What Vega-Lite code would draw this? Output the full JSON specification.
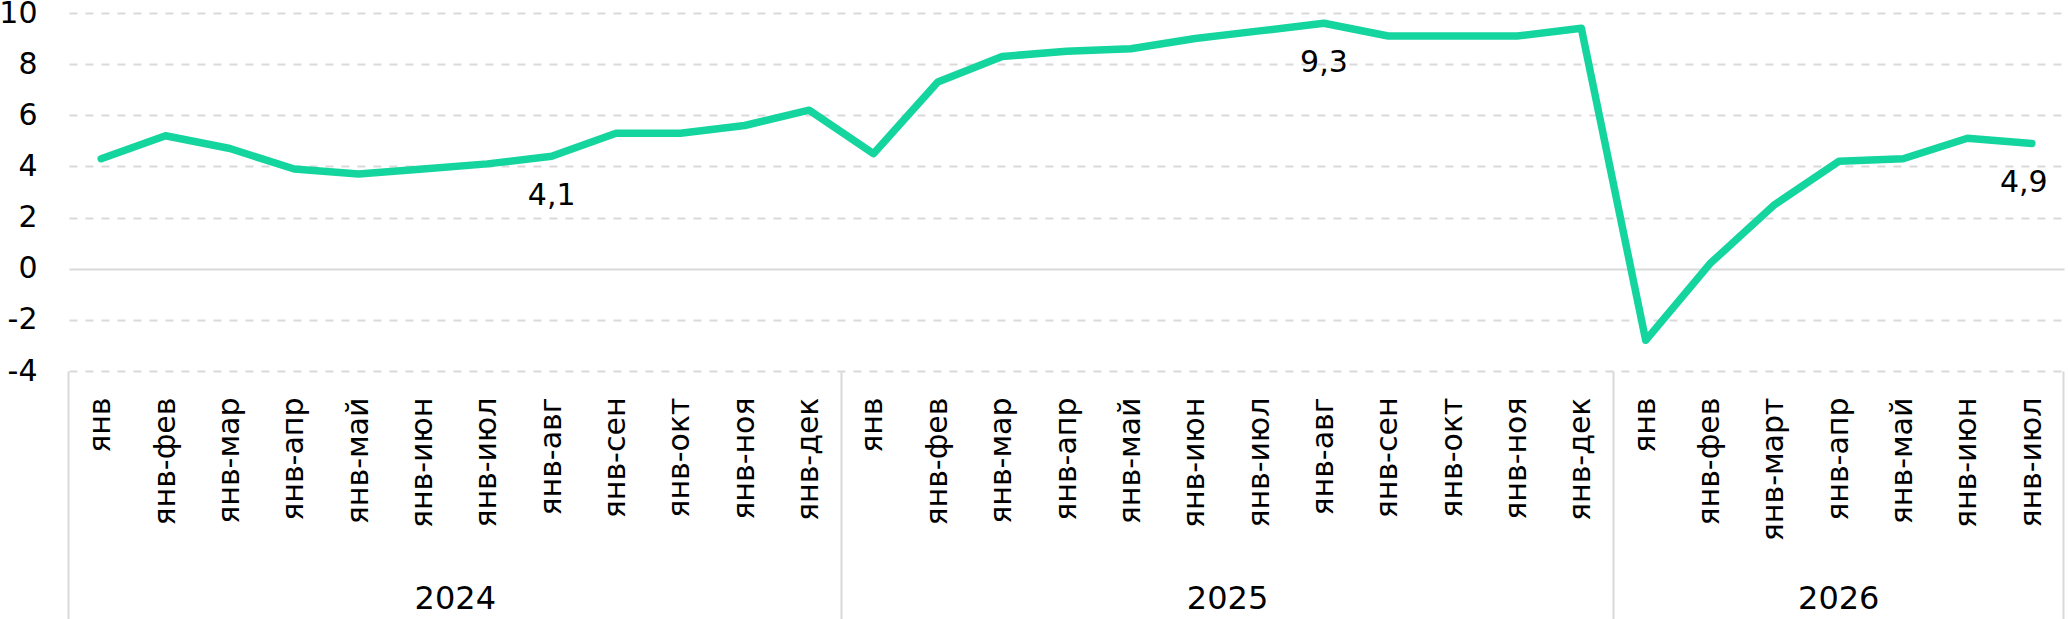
{
  "$schema": "https://vega.github.io/schema/vega-lite/v6.json",
  "width": 1995,
  "height": 358,
  "autosize": {"type": "none"},
  "padding": {"left": 69, "top": 13, "right": 4, "bottom": 248},
  "background": "white",
  "config": {"font": "DejaVu Sans", "view": {"stroke": null}},
  "data": {
    "values": [
      {"key": "2024|янв", "value": 4.3},
      {"key": "2024|янв-фев", "value": 5.2},
      {"key": "2024|янв-мар", "value": 4.7},
      {"key": "2024|янв-апр", "value": 3.9},
      {"key": "2024|янв-май", "value": 3.7},
      {"key": "2024|янв-июн", "value": 3.9},
      {"key": "2024|янв-июл", "value": 4.1},
      {"key": "2024|янв-авг", "value": 4.4, "label": "4,1"},
      {"key": "2024|янв-сен", "value": 5.3},
      {"key": "2024|янв-окт", "value": 5.3},
      {"key": "2024|янв-ноя", "value": 5.6},
      {"key": "2024|янв-дек", "value": 6.2},
      {"key": "2025|янв", "value": 4.5},
      {"key": "2025|янв-фев", "value": 7.3},
      {"key": "2025|янв-мар", "value": 8.3},
      {"key": "2025|янв-апр", "value": 8.5},
      {"key": "2025|янв-май", "value": 8.6},
      {"key": "2025|янв-июн", "value": 9.0},
      {"key": "2025|янв-июл", "value": 9.3},
      {"key": "2025|янв-авг", "value": 9.6, "label": "9,3"},
      {"key": "2025|янв-сен", "value": 9.1},
      {"key": "2025|янв-окт", "value": 9.1},
      {"key": "2025|янв-ноя", "value": 9.1},
      {"key": "2025|янв-дек", "value": 9.4},
      {"key": "2026|янв", "value": -2.8},
      {"key": "2026|янв-фев", "value": 0.2},
      {"key": "2026|янв-март", "value": 2.5},
      {"key": "2026|янв-апр", "value": 4.2},
      {"key": "2026|янв-май", "value": 4.3},
      {"key": "2026|янв-июн", "value": 5.1},
      {"key": "2026|янв-июл", "value": 4.9, "label": "4,9"}
    ]
  },
  "encoding": {
    "y": {
      "field": "value",
      "type": "quantitative",
      "scale": {"domain": [-4, 10], "nice": false, "zero": false},
      "axis": {
        "title": null,
        "values": [-4, -2, 0, 2, 4, 6, 8, 10],
        "labelExpr": "'' + datum.value",
        "domain": false,
        "ticks": false,
        "labelPadding": 32,
        "labelFontSize": 30,
        "labelColor": "#000000",
        "gridColor": "#d9d9d9",
        "gridWidth": 2,
        "gridDash": {"condition": {"test": "datum.value === 0", "value": []}, "value": [8, 8]}
      }
    }
  },
  "layer": [
    {
      "mark": {"type": "line", "color": "#15d59f", "strokeWidth": 7.5, "strokeCap": "round", "strokeJoin": "round"},
      "encoding": {
        "x": {
          "field": "key",
          "type": "ordinal",
          "sort": null,
          "bandPosition": 0.5,
          "scale": {"type": "band", "paddingInner": 0, "paddingOuter": 0},
          "axis": {
            "orient": "bottom",
            "title": null,
            "labelExpr": "split(datum.value, '|')[1]",
            "labelAngle": -90,
            "labelFontSize": 30,
            "labelColor": "#000000",
            "labelPadding": 26,
            "labelOverlap": false,
            "ticks": false,
            "domain": false,
            "grid": false
          }
        }
      }
    },
    {
      "mark": {"type": "text", "fontSize": 30, "color": "#000000", "baseline": "middle", "dy": 40},
      "encoding": {
        "x": {
          "field": "key",
          "type": "ordinal",
          "sort": null,
          "bandPosition": 0.5,
          "axis": {
            "orient": "bottom",
            "title": null,
            "bandPosition": 0,
            "domain": false,
            "grid": false,
            "ticks": true,
            "tickSize": 248,
            "tickWidth": 2,
            "tickColor": "#d9d9d9",
            "tickOpacity": {"condition": {"test": "indexof(['2024|янв', '2025|янв', '2026|янв'], datum.value) >= 0", "value": 1}, "value": 0},
            "labelExpr": "indexof(['2024|янв-июл', '2025|янв-июл', '2026|янв-апр'], datum.value) >= 0 ? split(datum.value, '|')[0] : ''",
            "labelAngle": 0,
            "labelFontSize": 32,
            "labelColor": "#000000",
            "labelBaseline": "top",
            "labelPadding": -36,
            "labelOffset": {"condition": {"test": "datum.value === '2026|янв-апр'", "value": 0}, "value": -32},
            "labelOverlap": false
          }
        },
        "text": {"condition": {"test": "!datum.label || datum.key === '2026|янв-июл'", "value": ""}, "field": "label"}
      }
    },
    {
      "mark": {"type": "text", "fontSize": 30, "color": "#000000", "baseline": "middle", "dy": 40, "dx": -8},
      "encoding": {
        "x": {
          "field": "key",
          "type": "ordinal",
          "sort": null,
          "bandPosition": 0.5,
          "axis": {
            "orient": "bottom",
            "title": null,
            "bandPosition": 1,
            "values": ["2026|янв-июл"],
            "labels": false,
            "domain": false,
            "grid": false,
            "ticks": true,
            "tickSize": 248,
            "tickWidth": 2,
            "tickColor": "#d9d9d9"
          }
        },
        "text": {"condition": {"test": "datum.key === '2026|янв-июл'", "field": "label"}, "value": ""}
      }
    }
  ],
  "resolve": {"axis": {"x": "independent"}}
}
